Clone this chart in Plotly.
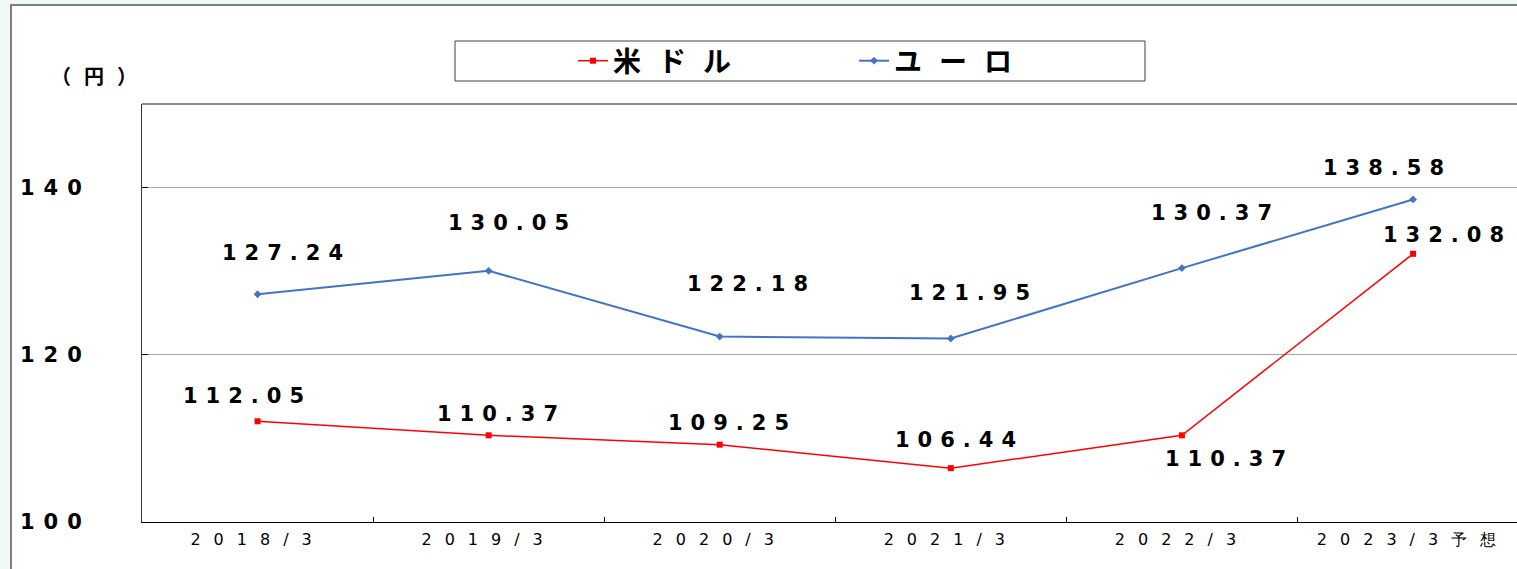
import plotly.graph_objects as go

categories = ["2018/3", "2019/3", "2020/3", "2021/3", "2022/3", "2023/3予想"]
usd = [112.05, 110.37, 109.25, 106.44, 110.37, 132.08]
eur = [127.24, 130.05, 122.18, 121.95, 130.37, 138.58]
y_ticks = [100, 120, 140]

# label offsets (pixels) relative to each point
usd_dx = [-14, 9, 9, 5, 44, 30]
usd_dy = [25, 21, 22, 28, -24, 19]
eur_dx = [25, 20, 28, 19, 30, -30]
eur_dy = [41, 48, 53, 46, 55, 31]

W, H = 1517, 569
L, T, B = 142, 104, 47
PW, PH = W - L, H - T - B


def px(x):
    return (x - L) / PW


def py(y):
    return (H - B - y) / PH


def sp(text, ls):
    return f'<span style="letter-spacing:{ls}px">{text}</span>'


FONT = "DejaVu Sans"
CJK = "Noto Sans CJK JP"
RED = "#FF0000"
BLUE = "#4472C4"

fig = go.Figure()
fig.add_trace(go.Scatter(
    x=categories, y=usd, mode="lines+markers", name=sp("米ドル", 17),
    line=dict(color=RED, width=1.5),
    marker=dict(symbol="square", size=6, color=RED),
))
fig.add_trace(go.Scatter(
    x=categories, y=eur, mode="lines+markers", name=sp("ユーロ", 17),
    line=dict(color=BLUE, width=2),
    marker=dict(symbol="diamond", size=6, color=BLUE),
))

LS_LBL = 8
for series, dxs, dys in ((usd, usd_dx, usd_dy), (eur, eur_dx, eur_dy)):
    for c, v, dx, dy in zip(categories, series, dxs, dys):
        fig.add_annotation(
            x=c, y=v, xref="x", yref="y", text=sp(f"{v:.2f}", LS_LBL),
            showarrow=False, xshift=dx + LS_LBL / 2, yshift=dy,
            font=dict(family=FONT, size=21, color="black", weight="bold"),
        )

fig.add_annotation(
    x=px(100), y=py(75), xref="paper", yref="paper", text=sp("（円）", 13),
    xanchor="center", yanchor="middle",
    showarrow=False, font=dict(family=CJK, size=20, color="black", weight="bold"),
)

shapes = [
    # outer frame
    dict(type="rect", xref="paper", yref="paper", x0=px(11), y0=py(590), x1=px(1540), y1=py(5),
         line=dict(color="#808080", width=2), fillcolor="white", layer="below"),
    # plot area top border
    dict(type="line", xref="paper", yref="paper", x0=0, x1=px(1540), y0=1, y1=1,
         line=dict(color="#8c8c8c", width=2)),
    # legend box
    dict(type="rect", xref="paper", yref="paper", x0=px(455), x1=px(1145), y0=py(81), y1=py(41),
         line=dict(color="#404040", width=1), fillcolor="white", layer="below"),
]

fig.update_layout(
    width=W, height=H,
    margin=dict(l=L, r=0, t=T, b=B, pad=0),
    paper_bgcolor="#f1f9f8",
    plot_bgcolor="rgba(0,0,0,0)",
    shapes=shapes,
    showlegend=True,
    legend=dict(
        orientation="h", x=px(573), xanchor="left", y=py(61), yanchor="middle",
        bgcolor="rgba(0,0,0,0)", borderwidth=0, entrywidth=236, entrywidthmode="pixels",
        font=dict(family=CJK, size=28, color="black", weight="bold"),
    ),
    xaxis=dict(
        type="category", range=[-0.5, 5.45], tickson="boundaries",
        tickvals=categories, ticktext=[sp(c, 13) for c in categories],
        ticks="inside", ticklen=5, tickcolor="black",
        showline=True, linecolor="black", linewidth=1, showgrid=False,
        ticklabelstandoff=3,
        tickfont=dict(family=FONT, size=16, color="black"),
    ),
    yaxis=dict(
        range=[100, 150], tickvals=y_ticks, ticktext=[sp(str(t), 9) for t in y_ticks],
        ticks="inside", ticklen=6, tickcolor="black",
        showline=True, linecolor="#333333", linewidth=1,
        showgrid=True, gridcolor="#a6a6a6", gridwidth=1, zeroline=False,
        ticklabelstandoff=46,
        tickfont=dict(family=FONT, size=21, color="black", weight="bold"),
    ),
)

fig.write_html("out.html", config={"displayModeBar": False},
               post_script="document.body.style.margin='0';")
